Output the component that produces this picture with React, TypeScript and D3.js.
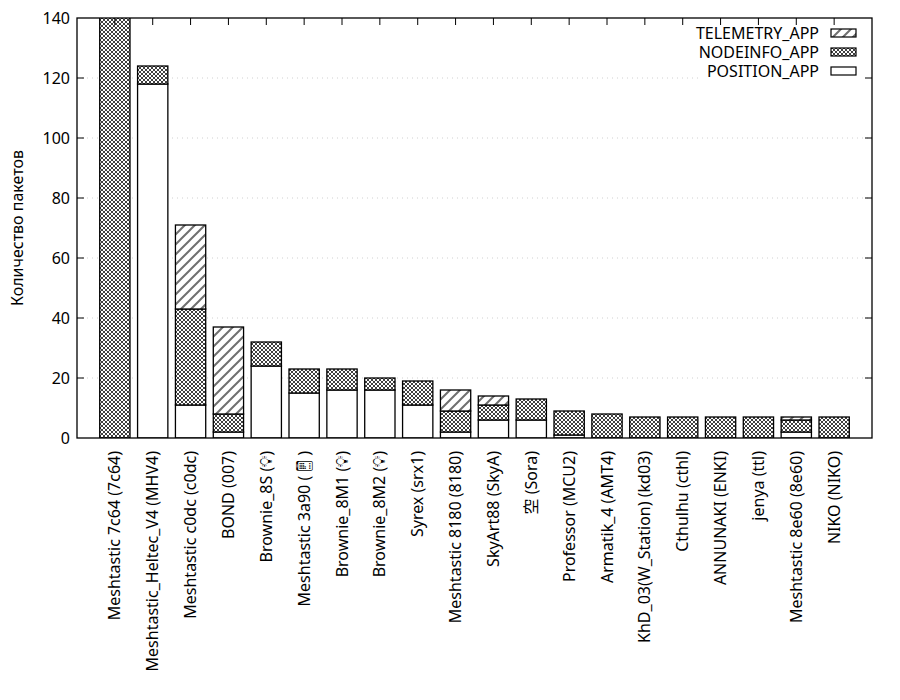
import { useEffect, useRef } from 'react';
import * as d3 from 'd3';

const nodes = [
  'Meshtastic 7c64 (7c64)',
  'Meshtastic_Heltec_V4 (MHV4)',
  'Meshtastic c0dc (c0dc)',
  'BOND (007)',
  'Brownie_8S (💡\uFE0E)',
  'Meshtastic 3a90 (📱\uFE0E)',
  'Brownie_8M1 (💡\uFE0E)',
  'Brownie_8M2 (💡\uFE0E)',
  'Syrex (srx1)',
  'Meshtastic 8180 (8180)',
  'SkyArt88 (SkyA)',
  '空 (Sora)',
  'Professor (MCU2)',
  'Armatik_4 (AMT4)',
  'KhD_03(W_Station) (kd03)',
  'Cthulhu (cthl)',
  'ANNUNAKI (ENKI)',
  'jenya (ttl)',
  'Meshtastic 8e60 (8e60)',
  'NIKO (NIKO)',
];

const positionApp = [0, 118, 11, 2, 24, 15, 16, 16, 11, 2, 6, 6, 1, 0, 0, 0, 0, 0, 2, 0];
const nodeinfoApp = [160, 6, 32, 6, 8, 8, 7, 4, 8, 7, 5, 7, 8, 8, 7, 7, 7, 7, 4, 7];
const telemetryApp = [0, 0, 28, 29, 0, 0, 0, 0, 0, 7, 3, 0, 0, 0, 0, 0, 0, 0, 1, 0];

const seriesKeys = ['POSITION_APP', 'NODEINFO_APP', 'TELEMETRY_APP'];
const yTicks = [0, 20, 40, 60, 80, 100, 120, 140];

const FONT = "'Noto Sans', 'Noto Sans CJK JP', 'DejaVu Sans', sans-serif";

export default function App() {
  const svgRef = useRef<SVGSVGElement>(null);

  useEffect(() => {
    if (!svgRef.current) return;
    const svg = d3.select(svgRef.current);
    svg.selectAll('*').remove();

    const left = 77;
    const right = 872;
    const top = 18;
    const bottom = 438;

    const x = d3.scaleLinear().domain([-1, 20]).range([left, right]);
    const y = d3.scaleLinear().domain([0, 140]).range([bottom, top]);
    const boxWidth = 0.8;

    const rows = nodes.map((name, i) => ({
      name,
      POSITION_APP: positionApp[i],
      NODEINFO_APP: nodeinfoApp[i],
      TELEMETRY_APP: telemetryApp[i],
    }));
    const stacked = d3.stack<any>().keys(seriesKeys)(rows);

    const defs = svg.append('defs');
    const diag = defs
      .append('pattern')
      .attr('id', 'pat-tele')
      .attr('patternUnits', 'userSpaceOnUse')
      .attr('width', 10)
      .attr('height', 10);
    diag.append('rect').attr('width', 10).attr('height', 10).attr('fill', '#fff');
    diag
      .append('path')
      .attr('d', 'M-2,12 L12,-2 M-2,2 L2,-2 M8,12 L12,8')
      .attr('stroke', '#707070')
      .attr('stroke-width', 2);

    const cross = defs
      .append('pattern')
      .attr('id', 'pat-node')
      .attr('patternUnits', 'userSpaceOnUse')
      .attr('width', 4)
      .attr('height', 4);
    cross.append('rect').attr('width', 4).attr('height', 4).attr('fill', '#fff');
    cross
      .append('path')
      .attr('d', 'M0,0 L4,4 M4,0 L0,4')
      .attr('stroke', '#404040')
      .attr('stroke-width', 1);

    defs
      .append('clipPath')
      .attr('id', 'plot-clip')
      .append('rect')
      .attr('x', left)
      .attr('y', top)
      .attr('width', right - left)
      .attr('height', bottom - top);

    const fills: Record<string, string> = {
      POSITION_APP: '#fff',
      NODEINFO_APP: 'url(#pat-node)',
      TELEMETRY_APP: 'url(#pat-tele)',
    };

    // dotted grid
    svg
      .append('g')
      .selectAll('line')
      .data(yTicks.filter((t) => t > 0 && t < 140))
      .join('line')
      .attr('x1', left)
      .attr('x2', right)
      .attr('y1', (d) => y(d))
      .attr('y2', (d) => y(d))
      .attr('stroke', '#d0d0d0')
      .attr('stroke-width', 1)
      .attr('stroke-dasharray', '1,4');

    const bars = svg.append('g').attr('clip-path', 'url(#plot-clip)');
    stacked.forEach((layer) => {
      bars
        .append('g')
        .selectAll('rect')
        .data(layer.map((d, i) => ({ d, i })).filter(({ d }) => d[1] - d[0] > 0))
        .join('rect')
        .attr('x', ({ i }) => x(i - boxWidth / 2))
        .attr('width', x(boxWidth) - x(0))
        .attr('y', ({ d }) => y(d[1]))
        .attr('height', ({ d }) => y(d[0]) - y(d[1]))
        .attr('fill', fills[layer.key])
        .attr('stroke', '#000')
        .attr('stroke-width', 1.3);
    });

    // legend (opaque box)
    const legendKeys = ['TELEMETRY_APP', 'NODEINFO_APP', 'POSITION_APP'];
    svg
      .append('rect')
      .attr('x', 700)
      .attr('y', top + 1)
      .attr('width', right - 700 - 1)
      .attr('height', 64)
      .attr('fill', '#fff');
    const lg = svg.append('g');
    legendKeys.forEach((k, i) => {
      const cy = 33 + i * 19;
      lg.append('text')
        .attr('x', 819)
        .attr('y', cy)
        .attr('dy', '0.35em')
        .attr('text-anchor', 'end')
        .attr('font-family', FONT)
        .attr('font-size', 16)
        .text(k);
      lg.append('rect')
        .attr('x', 831)
        .attr('y', cy - 4)
        .attr('width', 25)
        .attr('height', 8)
        .attr('fill', fills[k])
        .attr('stroke', '#000')
        .attr('stroke-width', 1.2);
    });

    // border
    svg
      .append('rect')
      .attr('x', left)
      .attr('y', top)
      .attr('width', right - left)
      .attr('height', bottom - top)
      .attr('fill', 'none')
      .attr('stroke', '#000')
      .attr('stroke-width', 1.3);

    // y ticks (left and right, inward) and labels
    const yg = svg.append('g');
    yTicks.forEach((t) => {
      if (t > 0 && t < 140) {
        yg.append('line')
          .attr('x1', left)
          .attr('x2', left + 7)
          .attr('y1', y(t))
          .attr('y2', y(t))
          .attr('stroke', '#000');
        yg.append('line')
          .attr('x1', right)
          .attr('x2', right - 7)
          .attr('y1', y(t))
          .attr('y2', y(t))
          .attr('stroke', '#000');
      }
      yg.append('text')
        .attr('x', left - 7)
        .attr('y', y(t))
        .attr('dy', '0.35em')
        .attr('text-anchor', 'end')
        .attr('font-family', FONT)
        .attr('font-size', 16)
        .text(t);
    });

    // x ticks mirrored on top, labels rotated
    const xg = svg.append('g');
    nodes.forEach((name, i) => {
      xg.append('line')
        .attr('x1', x(i))
        .attr('x2', x(i))
        .attr('y1', top)
        .attr('y2', top + 7)
        .attr('stroke', '#000');
      xg.append('text')
        .attr('transform', `translate(${x(i)},${bottom + 13}) rotate(-90)`)
        .attr('text-anchor', 'end')
        .attr('dy', '0.35em')
        .attr('font-family', FONT)
        .attr('font-size', 16)
        .attr('fill', '#000')
        .text(name);
    });

    svg
      .append('text')
      .attr('transform', `translate(17,${(top + bottom) / 2}) rotate(-90)`)
      .attr('text-anchor', 'middle')
      .attr('dy', '0.35em')
      .attr('font-family', FONT)
      .attr('font-size', 16)
      .text('Количество пакетов');
  }, []);

  return (
    <svg
      ref={svgRef}
      width={900}
      height={700}
      style={{ position: 'absolute', left: 0, top: 0, background: '#fff' }}
    />
  );
}
